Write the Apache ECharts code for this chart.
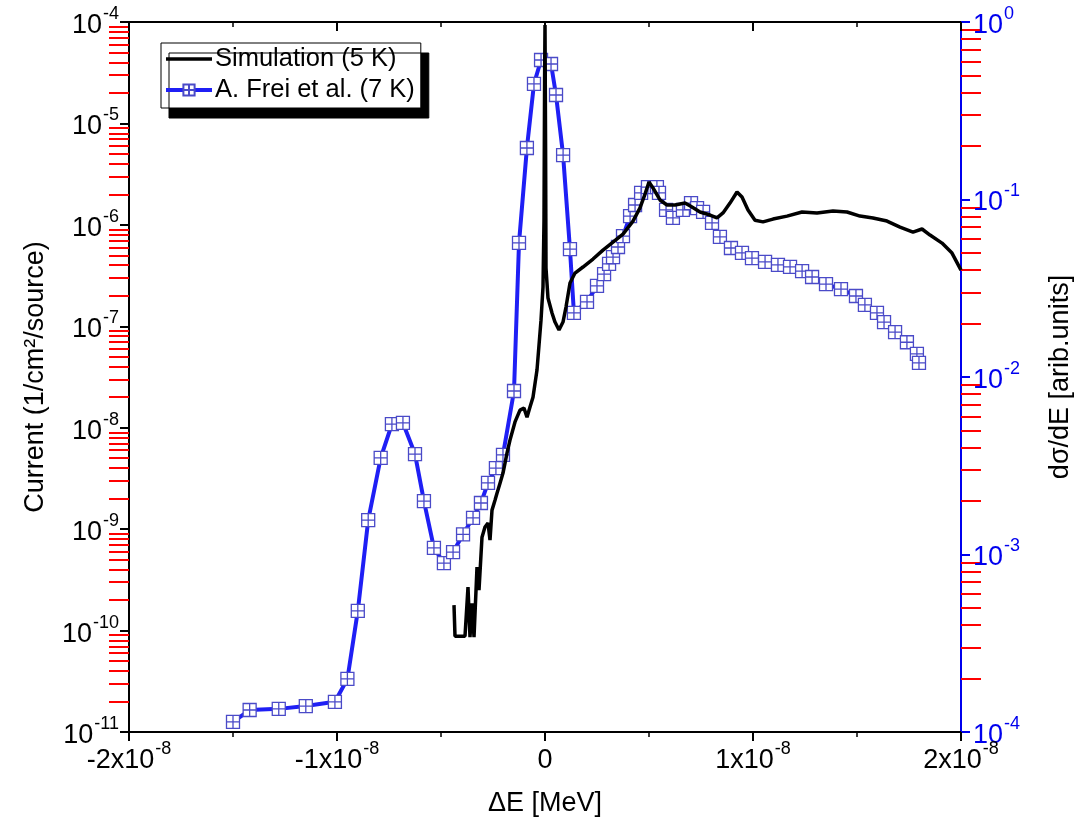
<!DOCTYPE html>
<html>
<head>
<meta charset="utf-8">
<script src="https://cdn.jsdelivr.net/npm/echarts@6/dist/echarts.min.js"></script>
<style>
html,body{margin:0;padding:0;background:#fff;}
#chart{width:1089px;height:825px;}
</style>
</head>
<body>
<div id="chart"></div>
<script>
// ---- Data ----
// Simulation (5 K): x in MeV, current (1/cm^2/source) on left log axis
const simX = [-0.4375e-8,-0.4327e-8,-0.4087e-8,-0.3846e-8,-0.3702e-8,-0.3606e-8,-0.3510e-8,-0.3413e-8,-0.3269e-8,-0.3173e-8,
  -0.3029e-8,-0.2885e-8,-0.2740e-8,-0.2644e-8,-0.2548e-8,-0.2404e-8,-0.2308e-8,-0.2163e-8,-0.2019e-8,-0.1827e-8,
  -0.1683e-8,-0.1442e-8,-0.1202e-8,-0.1010e-8,-0.0865e-8,-0.0721e-8,-0.0577e-8,-0.0385e-8,-0.0288e-8,-0.0192e-8,
  -0.0096e-8,-0.0048e-8,-0.0019e-8,0,0.0029e-8,0.0048e-8,0.0144e-8,0.0337e-8,0.0481e-8,0.0673e-8,
  0.0865e-8,0.1010e-8,0.1202e-8,0.1442e-8,0.1827e-8,0.2308e-8,0.2788e-8,0.3269e-8,0.3750e-8,0.4231e-8,
  0.4567e-8,0.4808e-8,0.5000e-8,0.5192e-8,0.5529e-8,0.5865e-8,0.6250e-8,0.6731e-8,0.7067e-8,0.7452e-8,
  0.7933e-8,0.8269e-8,0.8558e-8,0.8894e-8,0.9231e-8,0.9471e-8,0.9760e-8,1.0096e-8,1.0481e-8,1.0962e-8,
  1.1635e-8,1.2356e-8,1.3077e-8,1.3846e-8,1.4519e-8,1.5144e-8,1.5769e-8,1.6442e-8,1.7067e-8,1.7692e-8,
  1.8125e-8,1.8510e-8,1.9087e-8,1.9567e-8,2.0000e-8];
const simY = [1.78e-10,8.81e-11,8.81e-11,8.81e-11,2.68e-10,8.61e-11,1.86e-10,8.61e-11,4.22e-10,2.50e-10,
  8.34e-10,1.05e-9,1.15e-9,7.80e-10,1.54e-9,1.93e-9,2.26e-9,2.84e-9,3.57e-9,5.62e-9,
  7.55e-9,1.14e-8,1.49e-8,1.56e-8,1.27e-8,1.60e-8,2.00e-8,3.70e-8,6.53e-8,1.15e-7,
  2.44e-7,1.11e-6,2.68e-5,9.33e-5,5.47e-6,3.75e-7,1.90e-7,1.35e-7,1.10e-7,9.18e-8,
  1.10e-7,1.55e-7,2.67e-7,3.35e-7,3.84e-7,4.60e-7,5.64e-7,6.76e-7,8.11e-7,1.09e-6,
  1.47e-6,2.01e-6,2.64e-6,2.31e-6,1.76e-6,1.57e-6,1.57e-6,1.64e-6,1.50e-6,1.34e-6,
  1.25e-6,1.17e-6,1.31e-6,1.64e-6,2.11e-6,1.88e-6,1.40e-6,1.11e-6,1.07e-6,1.14e-6,
  1.22e-6,1.34e-6,1.31e-6,1.37e-6,1.34e-6,1.22e-6,1.17e-6,1.09e-6,9.51e-7,8.49e-7,
  9.10e-7,7.93e-7,6.61e-7,5.27e-7,3.58e-7];

// A. Frei et al. (7 K): x in MeV, dσ/dE (arb. units) on right log axis
const freiX = [-1.50e-8,-1.42e-8,-1.28e-8,-1.15e-8,-1.01e-8,-0.95e-8,-0.90e-8,-0.85e-8,-0.79e-8,-0.736e-8,
  -0.683e-8,-0.625e-8,-0.582e-8,-0.534e-8,-0.486e-8,-0.442e-8,-0.394e-8,-0.346e-8,-0.308e-8,-0.274e-8,
  -0.236e-8,-0.202e-8,-0.149e-8,-0.125e-8,-0.087e-8,-0.053e-8,-0.019e-8,0.029e-8,0.053e-8,0.087e-8,
  0.120e-8,0.139e-8,0.202e-8,0.250e-8,0.284e-8,0.308e-8,0.327e-8,0.351e-8,0.375e-8,0.409e-8,
  0.433e-8,0.462e-8,0.495e-8,0.538e-8,0.548e-8,0.582e-8,0.615e-8,0.663e-8,0.702e-8,0.731e-8,
  0.760e-8,0.803e-8,0.841e-8,0.894e-8,0.947e-8,0.995e-8,1.058e-8,1.120e-8,1.178e-8,1.236e-8,
  1.284e-8,1.351e-8,1.423e-8,1.495e-8,1.538e-8,1.596e-8,1.630e-8,1.683e-8,1.740e-8,1.788e-8,1.798e-8];
const freiY = [1.14e-4,1.33e-4,1.35e-4,1.40e-4,1.48e-4,1.99e-4,4.81e-4,1.56e-3,3.50e-3,5.43e-3,
  5.51e-3,3.68e-3,2.00e-3,1.09e-3,8.95e-4,1.03e-3,1.30e-3,1.61e-3,1.95e-3,2.53e-3,
  3.07e-3,3.64e-3,8.34e-3,0.0569,0.195,0.448,0.611,0.580,0.388,0.178,
  0.0526,0.0230,0.0265,0.0326,0.0380,0.0434,0.0474,0.0540,0.0622,0.0807,
  0.0931,0.109,0.1175,0.1175,0.109,0.0873,0.0787,0.0873,0.0955,0.0895,
  0.0851,0.0738,0.0615,0.0533,0.0500,0.0468,0.0445,0.0428,0.0417,0.0395,
  0.0366,0.0334,0.0313,0.0286,0.0255,0.0230,0.0204,0.0179,0.0157,0.0135,0.0120];

const seriesNames = ['Simulation (5 K)', 'A. Frei et al. (7 K)'];
const xMin = -2e-8, xMax = 2e-8, xInterval = 1e-8;
const leftDecades = [-11,-10,-9,-8,-7,-6,-5,-4];
const rightDecades = [-4,-3,-2,-1,0];

// ---- Build ----
const FONT = 'Arial, "Liberation Sans", Helvetica, sans-serif';
const BLUE_AX = '#0000ee';
const FS = 27, FS_SUP = 18;
const richLab = (color) => ({
  b: {fontSize: FS, fontFamily: FONT, color: color, lineHeight: 34, verticalAlign: 'bottom'},
  s: {fontSize: FS_SUP, fontFamily: FONT, color: color, lineHeight: 34, verticalAlign: 'top', padding: [0,0,0,1]}
});
function logLabel(v) {
  const e = Math.round(Math.log10(v));
  return '{b|10}{s|' + e + '}';
}
function xLabel(v) {
  const k = Math.round(v / 1e-8);
  if (k === 0) return '{b|0}';
  return '{b|' + k + 'x10}{s|-8}';
}
function pairs(xs, ys) { return xs.map((x, i) => [x, ys[i]]); }
function minorExps(decades) {
  const out = [];
  for (let i = 0; i < decades.length - 1; i++)
    for (let k = 2; k <= 9; k++) out.push(decades[i] + Math.log10(k));
  return out;
}
function minorAxis(decades, pos, color, anchorX) {
  return {
    type: 'value', min: decades[0], max: decades[decades.length - 1], position: pos,
    axisLine: {show: false, onZero: true, onZeroAxisIndex: anchorX},
    axisLabel: {show: false}, splitLine: {show: false},
    axisTick: {show: true, inside: false, length: 20, customValues: minorExps(decades),
               lineStyle: {color: color, width: 2}}
  };
}
function anchorAxis(lo, hi) {
  return {type: 'value', min: lo, max: hi, show: true,
          axisLine: {show: false, onZero: false}, axisTick: {show: false},
          axisLabel: {show: false}, splitLine: {show: false}};
}

const markerPath = 'path://M0,0 L10,0 L10,10 L0,10 Z M5,0 L5,10 M0,5 L10,5';

const chart = echarts.init(document.getElementById('chart'), null, {renderer: 'canvas'});
chart.setOption({
  backgroundColor: '#fff',
  animation: false,
  grid: {left: 129, right: 128, top: 22, bottom: 93},
  legend: {
    data: [{name: seriesNames[0], itemStyle: {opacity: 0}}, {name: seriesNames[1]}],
    orient: 'vertical',
    left: 161, top: 43,
    padding: [3, 6, 5, 3],
    itemGap: 5,
    itemWidth: 46, itemHeight: 14,
    backgroundColor: '#fff',
    borderColor: '#000', borderWidth: 1,
    shadowColor: '#000', shadowBlur: 0, shadowOffsetX: 8, shadowOffsetY: 10,
    lineStyle: {width: 'inherit'},
    textStyle: {fontSize: 25.5, fontFamily: FONT, color: '#000', padding: [0,0,0,-2]}
  },
  xAxis: [{
    type: 'value', min: xMin, max: xMax, interval: xInterval,
    name: 'ΔE [MeV]', nameLocation: 'middle', nameGap: 58,
    nameTextStyle: {fontSize: FS, fontFamily: FONT, color: '#000'},
    axisLine: {show: true, onZero: false, lineStyle: {color: '#000', width: 2}},
    axisTick: {show: true, inside: false, length: 9, lineStyle: {color: '#000', width: 2}},
    minorTick: {show: true, splitNumber: 2, length: 5, lineStyle: {color: '#000', width: 1.5}},
    axisLabel: {formatter: xLabel, margin: 8, rich: richLab('#000')},
    splitLine: {show: false}
  }, {
    type: 'value', min: xMin, max: xMax, interval: xInterval, position: 'top',
    axisLine: {show: true, onZero: false, lineStyle: {color: '#000', width: 2}},
    axisTick: {show: true, inside: true, length: 9, lineStyle: {color: '#000', width: 2}},
    minorTick: {show: true, splitNumber: 2, length: 5, lineStyle: {color: '#000', width: 1.5}},
    axisLabel: {show: false},
    splitLine: {show: false}
  },
  anchorAxis(0, 1),
  anchorAxis(-1, 0)
  ],
  yAxis: [{
    type: 'log', logBase: 10, min: 1e-11, max: 1e-4, interval: 1,
    position: 'left',
    name: 'Current (1/cm²/source)', nameLocation: 'middle', nameGap: 80, nameRotate: 90,
    nameTextStyle: {fontSize: FS, fontFamily: FONT, color: '#000'},
    axisLine: {show: true, onZero: false, lineStyle: {color: '#000', width: 2}},
    axisTick: {show: true, inside: false, length: 9, lineStyle: {color: '#000', width: 2}},
    axisLabel: {formatter: logLabel, margin: 10, rich: richLab('#000')},
    splitLine: {show: false}
  }, {
    type: 'log', logBase: 10, min: 1e-4, max: 1, interval: 1,
    position: 'right',
    name: 'dσ/dE [arib.units]', nameLocation: 'middle', nameGap: 86, nameRotate: 90,
    nameTextStyle: {fontSize: FS, fontFamily: FONT, color: '#000'},
    axisLine: {show: true, onZero: false, lineStyle: {color: BLUE_AX, width: 2}},
    axisTick: {show: true, inside: false, length: 9, lineStyle: {color: BLUE_AX, width: 2}},
    axisLabel: {formatter: logLabel, margin: 12, rich: richLab(BLUE_AX)},
    splitLine: {show: false}
  },
  minorAxis(leftDecades, 'left', '#ff0000', 2),
  minorAxis(rightDecades, 'right', '#ff0000', 3)
  ],
  series: [{
    name: seriesNames[1],
    type: 'line',
    xAxisIndex: 0, yAxisIndex: 1,
    data: pairs(freiX, freiY),
    symbol: markerPath, symbolSize: 13, showSymbol: true,
    lineStyle: {color: '#1f1ff5', width: 4},
    itemStyle: {color: '#ffffff', borderColor: '#4a4ac8', borderWidth: 1.3},
    z: 2
  }, {
    name: seriesNames[0],
    type: 'line',
    xAxisIndex: 0, yAxisIndex: 0,
    data: pairs(simX, simY),
    symbol: 'none', showSymbol: false,
    lineStyle: {color: '#000', width: 3.5},
    itemStyle: {color: '#000'},
    z: 3
  }]
});
</script>
</body>
</html>
